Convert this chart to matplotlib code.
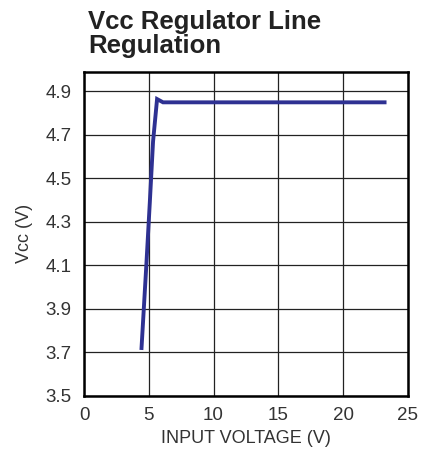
import matplotlib
matplotlib.use("Agg")
import matplotlib.pyplot as plt

plt.rcParams['font.family'] = ['Liberation Sans', 'DejaVu Sans']

vin = [4.44, 4.82, 5.08, 5.33, 5.64, 6.1, 23.2]
vcc = [3.72, 4.11, 4.39, 4.67, 4.865, 4.85, 4.85]
xticks = [0, 5, 10, 15, 20, 25]
yticks = [3.5, 3.7, 3.9, 4.1, 4.3, 4.5, 4.7, 4.9]

fig = plt.figure(figsize=(4.33, 4.55), dpi=100)
ax = fig.add_axes([0.194, 0.13, 0.748, 0.712])
ax.plot(vin, vcc, color='#2E3192', lw=2.8, solid_joinstyle='miter')
ax.set_xlim(0, 25)
ax.set_ylim(3.5, 4.99)
ax.set_xticks(xticks)
ax.set_yticks(yticks)
ax.set_yticklabels([f"{v:.1f}" for v in yticks])
ax.grid(True, color='#222222', lw=0.9)
ax.set_axisbelow(True)
for s in ax.spines.values():
    s.set_linewidth(1.8)
ax.tick_params(length=0, labelsize=13.5, colors='#333333')
ax.tick_params(axis='x', pad=8)
ax.tick_params(axis='y', pad=9)
ax.set_xlabel('INPUT VOLTAGE (V)', fontsize=13, color='#333333', labelpad=4)
ax.set_ylabel('Vcc (V)', fontsize=13, color='#333333', labelpad=9)
fig.text(0.203, 0.978, 'Vcc Regulator Line\nRegulation', fontsize=18.5, fontweight='bold',
         ha='left', va='top', color='#222222', linespacing=0.98)
fig.savefig('out.png', dpi=100)
